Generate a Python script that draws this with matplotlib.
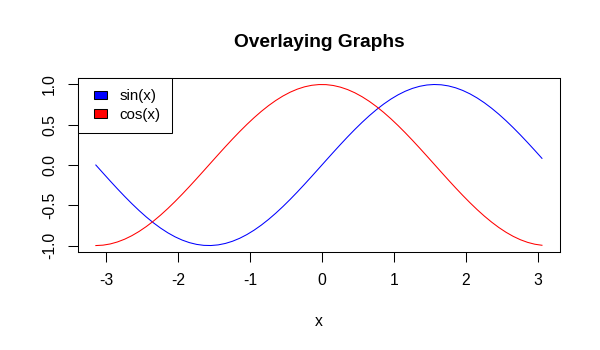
import matplotlib
matplotlib.use("Agg")
import matplotlib.pyplot as plt
from matplotlib.patches import Patch, Rectangle
from matplotlib.legend_handler import HandlerPatch

plt.rcParams['font.family'] = ['Liberation Sans', 'DejaVu Sans']

# x = -pi .. pi in steps of 0.1
x = [-3.142, -3.042, -2.942, -2.842, -2.742, -2.642, -2.542, -2.442, -2.342, -2.242,
     -2.142, -2.042, -1.942, -1.842, -1.742, -1.642, -1.542, -1.442, -1.342, -1.242,
     -1.142, -1.042, -0.942, -0.842, -0.742, -0.642, -0.542, -0.442, -0.342, -0.242,
     -0.142, -0.042, 0.058, 0.158, 0.258, 0.358, 0.458, 0.558, 0.658, 0.758,
     0.858, 0.958, 1.058, 1.158, 1.258, 1.358, 1.458, 1.558, 1.658, 1.758,
     1.858, 1.958, 2.058, 2.158, 2.258, 2.358, 2.458, 2.558, 2.658, 2.758,
     2.858, 2.958, 3.058]

sin_y = [0.0, -0.0998, -0.1987, -0.2955, -0.3894, -0.4794, -0.5646, -0.6442, -0.7174, -0.7833,
         -0.8415, -0.8912, -0.9320, -0.9636, -0.9854, -0.9975, -0.9996, -0.9917, -0.9738, -0.9463,
         -0.9093, -0.8632, -0.8085, -0.7457, -0.6755, -0.5985, -0.5155, -0.4274, -0.3350, -0.2392,
         -0.1411, -0.0416, 0.0584, 0.1577, 0.2555, 0.3508, 0.4425, 0.5298, 0.6119, 0.6878,
         0.7568, 0.8183, 0.8716, 0.9162, 0.9516, 0.9775, 0.9937, 0.9999, 0.9962, 0.9825,
         0.9589, 0.9258, 0.8835, 0.8323, 0.7728, 0.7055, 0.6313, 0.5507, 0.4646, 0.3739,
         0.2794, 0.1822, 0.0831]

cos_y = [-1.0, -0.9950, -0.9801, -0.9553, -0.9211, -0.8776, -0.8253, -0.7648, -0.6967, -0.6216,
         -0.5403, -0.4536, -0.3624, -0.2675, -0.1700, -0.0707, 0.0292, 0.1288, 0.2272, 0.3233,
         0.4161, 0.5048, 0.5885, 0.6663, 0.7374, 0.8011, 0.8569, 0.9041, 0.9422, 0.9710,
         0.9900, 0.9991, 0.9983, 0.9875, 0.9668, 0.9365, 0.8968, 0.8481, 0.7910, 0.7259,
         0.6536, 0.5748, 0.4903, 0.4008, 0.3073, 0.2108, 0.1122, 0.0124, -0.0875, -0.1865,
         -0.2837, -0.3780, -0.4685, -0.5544, -0.6347, -0.7087, -0.7756, -0.8347, -0.8855, -0.9275,
         -0.9602, -0.9833, -0.9965]

labels = ["sin(x)", "cos(x)"]
colors = ["blue", "red"]
xticks = [-3, -2, -1, 0, 1, 2, 3]
yticks = [-1.0, -0.5, 0.0, 0.5, 1.0]

fig = plt.figure(figsize=(6, 3.5), dpi=100)
ax = fig.add_axes([0.13, 0.28, 0.803, 0.497])

ax.plot(x, sin_y, color=colors[0], lw=0.75)
ax.plot(x, cos_y, color=colors[1], lw=0.75)

# R style 4% padding
xr = x[-1] - x[0]
ax.set_xlim(x[0] - 0.04 * xr, x[-1] + 0.04 * xr)
ax.set_ylim(-1.08, 1.08)

ax.set_xticks(xticks)
ax.set_xticklabels([str(t) for t in xticks])
ax.set_yticks(yticks)
ax.set_yticklabels(["%.1f" % t for t in yticks], rotation=90, va='center')
ax.tick_params(axis='both', length=7, width=0.75, labelsize=11.3, pad=8, color='black')
for s in ax.spines.values():
    s.set_linewidth(0.75)

ax.set_xlabel("x", fontsize=11.3, labelpad=19)
ax.set_title("Overlaying Graphs", fontsize=13.8, fontweight='bold', pad=22)


# small filled box, pushed to the right side of the handle area (like R legend fill)
def box(legend, orig_handle, xdescent, ydescent, width, height, fontsize):
    w, h = 9.1, 6.0
    return Rectangle((-xdescent + width - w, -ydescent + (height - h) / 2), w, h)


handles = [Patch(facecolor=c, edgecolor='black', linewidth=0.75) for c in colors]
leg = ax.legend(handles, labels, loc='upper left', borderaxespad=0, fancybox=False,
                edgecolor='black', framealpha=1, fontsize=10.9, handlelength=1.14,
                handleheight=0.6, handletextpad=0.86, borderpad=0.75, labelspacing=0.3,
                handler_map={Patch: HandlerPatch(patch_func=box)})
leg.get_frame().set_linewidth(0.75)

fig.savefig("out.png", dpi=100)
